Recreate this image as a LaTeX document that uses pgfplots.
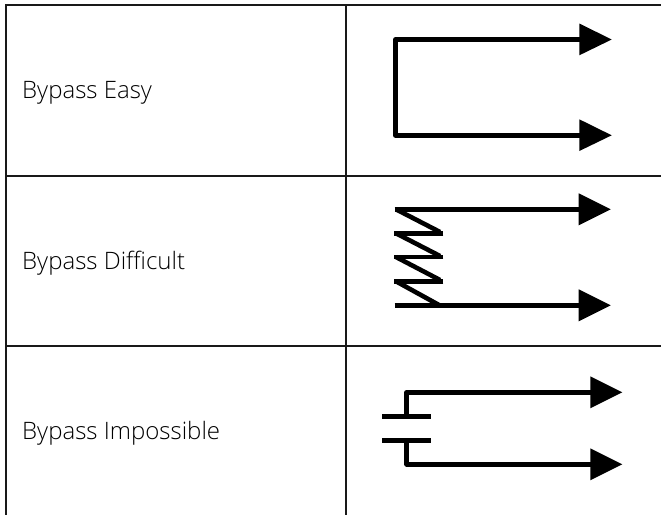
\documentclass[border=0pt]{standalone}
\usepackage{pgfplots}
\pgfplotsset{compat=1.18}
\usepackage{fontspec}
\setmainfont{Open Sans Light}
\begin{document}
\begin{tikzpicture}
\begin{axis}[
  scale only axis, width=661pt, height=515pt,
  xmin=0, xmax=661, ymin=0, ymax=515, y dir=reverse,
  hide axis, clip=true,
  rule/.style={draw=black!90, line width=1.6pt, no markers, forget plot},
  icon/.style={draw=black, line width=4.6pt, no markers, forget plot, line join=round, line cap=butt},
  head/.style={draw=none, fill=black, no markers, forget plot},
]
\path (axis cs:0,0) rectangle (axis cs:661,515);
% table rules
\addplot[rule] coordinates {(6,5) (661,5)};
\addplot[rule] coordinates {(6,176) (661,176)};
\addplot[rule] coordinates {(6,346) (661,346)};
\addplot[rule] coordinates {(6,4.2) (6,515)};
\addplot[rule] coordinates {(346,4.2) (346,515)};
% Bypass Easy
\addplot[icon] coordinates {(580,39.5) (395.5,39.5) (395.5,135.3) (580,135.3)};
\addplot[head] coordinates {(579.3,23.5) (611.7,39.5) (579.3,55.3)} --cycle;
\addplot[head] coordinates {(579.3,119.3) (611.7,135.3) (579.3,151)} --cycle;
% Bypass Difficult
\addplot[icon] coordinates {(394.7,209.3) (579,209.3)};
\addplot[icon] coordinates {(394.7,305.3) (579,305.3)};
\addplot[icon] coordinates {(396,209.3) (440,232)};
\addplot[icon] coordinates {(443.3,233.3) (394,233.3)};
\addplot[icon] coordinates {(396,233.3) (440,256)};
\addplot[icon] coordinates {(443.3,257) (394,257)};
\addplot[icon] coordinates {(396,257) (440,280)};
\addplot[icon] coordinates {(443.3,281.3) (394,281.3)};
\addplot[icon] coordinates {(396,281.3) (439,305)};
\addplot[head] coordinates {(578.7,193.3) (610.7,209.3) (578.7,225.3)} --cycle;
\addplot[head] coordinates {(578.7,289.3) (610.7,305.3) (578.7,321.3)} --cycle;
% Bypass Impossible
\addplot[icon] coordinates {(406.7,416.3) (406.7,392.3) (591,392.3)};
\addplot[icon] coordinates {(406.7,440.3) (406.7,464.3) (591,464.3)};
\addplot[icon] coordinates {(382,416.3) (431,416.3)};
\addplot[icon] coordinates {(382,440.3) (431,440.3)};
\addplot[head] coordinates {(590.3,376.3) (622.3,392.3) (590.3,408.3)} --cycle;
\addplot[head] coordinates {(590.3,448.3) (622.3,464.3) (590.3,480.3)} --cycle;
% labels
\node[anchor=base west, inner sep=0pt, font=\fontsize{24}{26}\selectfont] at (axis cs:22,98) {Bypass Easy};
\node[anchor=base west, inner sep=0pt, font=\fontsize{24}{26}\selectfont] at (axis cs:22,269) {Bypass Difficult};
\node[anchor=base west, inner sep=0pt, font=\fontsize{24}{26}\selectfont] at (axis cs:22,439) {Bypass Impossible};
\end{axis}
\end{tikzpicture}
\end{document}
